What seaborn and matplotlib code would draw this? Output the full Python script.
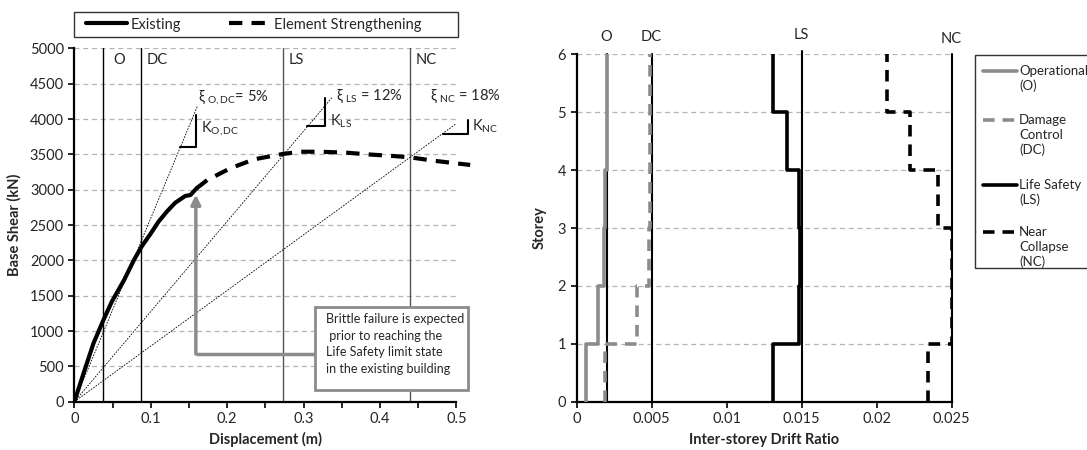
import numpy as np
import matplotlib
matplotlib.use("Agg")
import matplotlib.pyplot as plt
import seaborn as sns

sns.set_style("white")
plt.rcParams["font.family"] = ["Lato", "DejaVu Sans"]
plt.rcParams["mathtext.fontset"] = "custom"
plt.rcParams["mathtext.rm"] = "Lato"
plt.rcParams["mathtext.it"] = "Lato:italic"
plt.rcParams["font.size"] = 10

# pushover curves (left)
exist_x = [0, 0.012, 0.025, 0.038, 0.049, 0.065, 0.078, 0.088, 0.1, 0.11, 0.121, 0.132, 0.145, 0.152, 0.16]
exist_y = [0, 400, 825, 1155, 1415, 1720, 2005, 2195, 2380, 2545, 2690, 2815, 2910, 2925, 3020]
stren_x = [0.16, 0.174, 0.204, 0.235, 0.272, 0.296, 0.322, 0.357, 0.383, 0.418, 0.44, 0.47, 0.518]
stren_y = [3020, 3137, 3302, 3429, 3504, 3537, 3537, 3523, 3500, 3476, 3457, 3410, 3350]

# limit state displacements and secant stiffness lines
limit_names = ["O", "DC", "LS", "NC"]
limit_disp = [0.038, 0.087, 0.273, 0.439]
secant_end_x = [0.161, 0.338, 0.521]
secant_end_y = [4180, 4314, 4102]
xi_labels = [r"ξ $_{\mathrm{O,DC}}$= 5%", r"ξ $_{\mathrm{LS}}$ = 12%", r"ξ $_{\mathrm{NC}}$ = 18%"]
k_labels = [r"K$_{\mathrm{O,DC}}$", r"K$_{\mathrm{LS}}$", r"K$_{\mathrm{NC}}$"]

# inter-storey drift profiles (right), storeys 1..6
storeys = [1, 2, 3, 4, 5, 6]
drift_O = [0.0006, 0.0014, 0.0018, 0.0019, 0.0020, 0.0020]
drift_DC = [0.0019, 0.0040, 0.0048, 0.0049, 0.0049, 0.0049]
drift_LS = [0.0131, 0.0148, 0.0149, 0.0148, 0.0140, 0.0131]
drift_NC = [0.0234, 0.0250, 0.0250, 0.0241, 0.0222, 0.0207]
drift_limits = [0.002, 0.005, 0.015, 0.025]

grid_kw = dict(color="#b5b5b5", lw=0.9, ls=(0, (4, 3)))
DASH = [3.2, 2.2]

fig = plt.figure(figsize=(10.87, 4.5), dpi=100)

# ---------------- left: pushover ----------------
ax = fig.add_axes([0.0684, 0.1073, 0.3515, 0.7853])
for v in range(500, 5001, 500):
    ax.axhline(v, xmin=0, xmax=1, zorder=0, **grid_kw)

for i, d in enumerate(limit_disp):
    ax.axvline(d, color="black" if i < 2 else "#555555", lw=1.0, zorder=1)
label_x = [0.051, 0.094, 0.281, 0.447]
for name, lx in zip(limit_names, label_x):
    ax.text(lx, 4830, name, ha="left", va="center", fontsize=10.5)

for ex, ey in zip(secant_end_x, secant_end_y):
    ax.plot([0, ex], [0, ey], color="black", lw=0.6, ls=(0, (2, 1.5)), zorder=2)

# stiffness triangles
tri = [([0.1385, 0.1587, 0.1587], [3597, 3597, 4055]),
       ([0.3038, 0.3286, 0.3286], [3900, 3900, 4300]),
       ([0.4818, 0.5157, 0.5157], [3790, 3790, 3985])]
for tx, ty in tri:
    ax.plot(tx, ty, color="black", lw=1.5, clip_on=False, zorder=3)

xi_pos = [(0.162, 4314), (0.342, 4314), (0.466, 4314)]
for (px, py), t in zip(xi_pos, xi_labels):
    ax.text(px, py, t, ha="left", va="center", fontsize=10.5)
k_pos = [(0.166, 3868), (0.334, 3961), (0.521, 3890)]
for (px, py), t in zip(k_pos, k_labels):
    ax.text(px, py, t, ha="left", va="center", fontsize=10.5, clip_on=False)

sns.lineplot(x=exist_x, y=exist_y, ax=ax, color="black", lw=3, sort=False,
             estimator=None, label="Existing", zorder=4)
sns.lineplot(x=stren_x, y=stren_y, ax=ax, color="black", lw=3, sort=False,
             estimator=None, label="Element Strengthening", zorder=4)
ax.lines[-1].set_dashes(DASH)
ax.lines[-1].set_clip_on(False)

# annotation box with arrow
ax.annotate("", xy=(0.159, 2930), xytext=(0.159, 675),
            arrowprops=dict(arrowstyle="-|>", color="#8c8c8c", lw=2.5,
                            mutation_scale=14, shrinkA=0, shrinkB=0), zorder=5)
ax.plot([0.159, 0.316], [675, 675], color="#8c8c8c", lw=2.5, solid_capstyle="butt", zorder=5)
ax.text(0.329, 1250, "Brittle failure is expected\n prior to reaching the\nLife Safety limit state\nin the existing building",
        ha="left", va="top", fontsize=9, linespacing=1.45, zorder=7)
ax.add_patch(plt.Rectangle((0.3155, 165), 0.199, 1172, facecolor="white",
                           edgecolor="#8c8c8c", lw=2, zorder=6, clip_on=False))

ax.set_xlim(0, 0.5)
ax.set_ylim(0, 5000)
ax.set_xticks(np.arange(0, 0.51, 0.1))
ax.set_xticks(np.arange(0.05, 0.5, 0.1), minor=True)
ax.set_xticklabels(["0", "0.1", "0.2", "0.3", "0.4", "0.5"])
ax.set_yticks(range(0, 5001, 500))
ax.tick_params(axis="both", which="both", direction="out", length=4, width=1.2, labelsize=10.5,
               bottom=True, left=True, color="black")
ax.set_xlabel("Displacement (m)", fontweight="bold", fontsize=10.5, labelpad=4)
ax.set_ylabel("Base Shear (kN)", fontweight="bold", fontsize=10.5, labelpad=6)
for s in ["top", "right"]:
    ax.spines[s].set_visible(False)
for s in ["left", "bottom"]:
    ax.spines[s].set_color("black")
    ax.spines[s].set_linewidth(1.6)

# top legend: seaborn entries, frame drawn separately
leg = ax.legend(loc="center left", bbox_to_anchor=(86 / 1087, 1 - 24.5 / 450),
                bbox_transform=fig.transFigure, ncol=2, frameon=False, fontsize=10.5,
                handlelength=2.8, handletextpad=0.25, columnspacing=3.3,
                borderpad=0, borderaxespad=0)
fig.patches.append(plt.Rectangle((74.4 / 1087, 1 - 37.2 / 450), (458 - 74.4) / 1087, 25.2 / 450,
                                 transform=fig.transFigure, facecolor="none",
                                 edgecolor="#333333", lw=1.0))

# ---------------- right: drift profiles ----------------
ax2 = fig.add_axes([0.5305, 0.1073, 0.345, 0.772])
for v in range(1, 7):
    ax2.axhline(v, zorder=0, **grid_kw)

for d in drift_limits:
    ax2.plot([d, d], [0, 6.06 if d == 0.015 else 6], color="black", lw=1.5, clip_on=False, zorder=2)
lab_y = [6.30, 6.30, 6.33, 6.26]
for name, d, ly in zip(limit_names, drift_limits, lab_y):
    ax2.text(d, ly, name, ha="center", va="center", fontsize=10.5)

story_y = np.repeat(np.arange(0, 7), 2)[1:-1]
profiles = [(["Operational", "(O)"], drift_O, "#8c8c8c", None),
            (["Damage", "Control", "(DC)"], drift_DC, "#8c8c8c", DASH),
            (["Life Safety", "(LS)"], drift_LS, "black", None),
            (["Near", "Collapse", "(NC)"], drift_NC, "black", DASH)]
for name, d, col, dash in profiles:
    sns.lineplot(x=np.repeat(d, 2), y=story_y, ax=ax2, color=col, lw=2.6, sort=False,
                 estimator=None, zorder=3)
    if dash:
        ax2.lines[-1].set_dashes(dash)

ax2.set_xlim(0, 0.025)
ax2.set_ylim(0, 6)
ax2.set_xticks([0, 0.005, 0.01, 0.015, 0.02, 0.025])
ax2.set_xticklabels(["0", "0.005", "0.01", "0.015", "0.02", "0.025"])
ax2.set_yticks(range(0, 7))
ax2.tick_params(axis="both", direction="out", length=4, width=1.2, labelsize=10.5,
                bottom=True, left=True, color="black")
ax2.set_xlabel("Inter-storey Drift Ratio", fontweight="bold", fontsize=10.5, labelpad=5)
ax2.set_ylabel("Storey", fontweight="bold", fontsize=10.5, labelpad=8)
for s in ["top", "right"]:
    ax2.spines[s].set_visible(False)
for s in ["left", "bottom"]:
    ax2.spines[s].set_color("black")
    ax2.spines[s].set_linewidth(1.6)

# right legend, handle aligned with first text line like the original
fig.patches.append(plt.Rectangle((975 / 1087, 1 - 268 / 450), 0.2, 213 / 450,
                                 transform=fig.transFigure, facecolor="none",
                                 edgecolor="#333333", lw=1.0))
entry_y = [70.7, 120, 185, 231.7]
for (name, d, col, dash), ey in zip(profiles, entry_y):
    hl = plt.Line2D([983 / 1087, 1017 / 1087], [1 - ey / 450] * 2, transform=fig.transFigure,
                    color=col, lw=2.6)
    if dash:
        hl.set_dashes(dash)
    fig.lines.append(hl)
    for k, line in enumerate(name):
        fig.text(1019 / 1087, 1 - (ey + 15 * k) / 450, line, ha="left", va="center", fontsize=9.5)

fig.savefig("out.png", dpi=100)
